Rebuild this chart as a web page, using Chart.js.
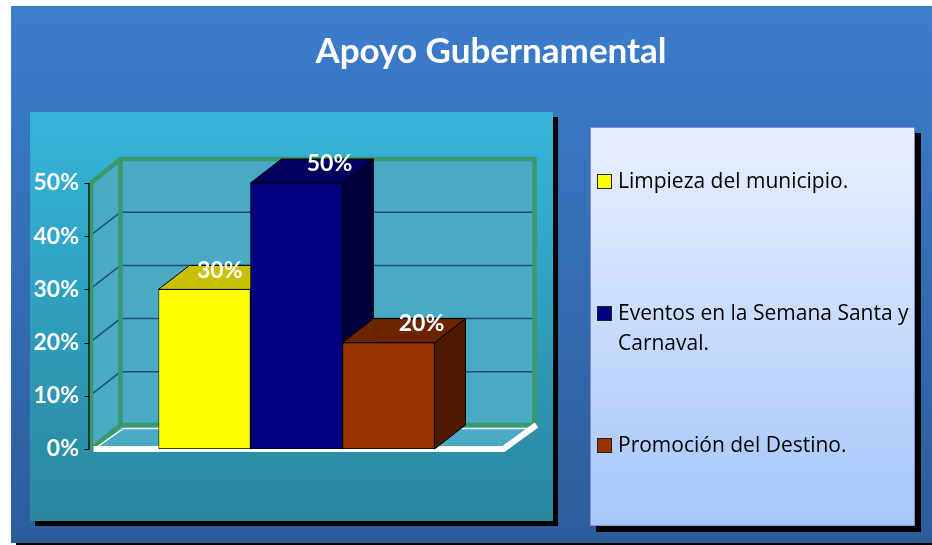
<!DOCTYPE html>
<html>
<head>
<meta charset="utf-8">
<script src="https://cdn.jsdelivr.net/npm/chart.js@4.4.1/dist/chart.umd.min.js"></script>
<style>
  html, body { margin: 0; padding: 0; background: #fff; }
  canvas { display: block; }
</style>
</head>
<body>
<canvas id="apoyo" width="932" height="545"></canvas>
<script>
'use strict';

// Apoyo Gubernamental - columna 3D
var title = 'Apoyo Gubernamental';
var categories = ['Limpieza del municipio.', 'Eventos en la Semana Santa y Carnaval.', 'Promoción del Destino.'];
var values = [30, 50, 20];
var tickValues = [0, 10, 20, 30, 40, 50];

var frontColors = ['#ffff00', '#000080', '#993300'];
var topColors = ['#c8c000', '#00005e', '#6b2600'];
var sideColors = ['#9a9400', '#00003c', '#4d1a00'];

var depthX = 31, depthY = -24;
var FONT = 'Lato, "Open Sans", sans-serif';
var LEGEND_FONT = '"Open Sans", "Noto Sans", sans-serif';

function wrapText(ctx, text, maxW) {
  var words = text.split(' '), lines = [], line = '';
  words.forEach(function (w) {
    var test = line ? line + ' ' + w : w;
    if (ctx.measureText(test).width > maxW && line) {
      lines.push(line);
      line = w;
    } else {
      line = test;
    }
  });
  if (line) lines.push(line);
  return lines;
}

var scene = {
  id: 'scene',
  beforeDraw: function (chart) {
    var ctx = chart.ctx;
    ctx.save();
    ctx.fillStyle = '#fff';
    ctx.fillRect(0, 0, 932, 545);

    // slide background
    ctx.fillStyle = '#000';
    ctx.fillRect(16, 543, 916, 2);
    var g = ctx.createLinearGradient(0, 6, 0, 543);
    g.addColorStop(0, '#3c7dcc');
    g.addColorStop(1, '#2c5d9b');
    ctx.fillStyle = g;
    ctx.fillRect(11, 6, 921, 537);

    // title
    ctx.fillStyle = '#fff';
    ctx.font = 'bold 35px ' + FONT;
    ctx.textAlign = 'center';
    ctx.textBaseline = 'alphabetic';
    ctx.fillText(title, 491, 63);

    // plot panel
    ctx.fillStyle = '#000';
    ctx.fillRect(35, 117, 523, 409);
    g = ctx.createLinearGradient(0, 112, 0, 521);
    g.addColorStop(0, '#35b5da');
    g.addColorStop(1, '#2a879e');
    ctx.fillStyle = g;
    ctx.fillRect(30, 112, 523, 409);

    // legend box
    ctx.fillStyle = '#000';
    ctx.fillRect(596, 133, 325, 399);
    g = ctx.createLinearGradient(0, 127, 0, 526);
    g.addColorStop(0, '#e9f0fe');
    g.addColorStop(1, '#a6c6fb');
    ctx.fillStyle = g;
    ctx.fillRect(590, 127, 325, 399);
    ctx.strokeStyle = '#8a8ad0';
    ctx.lineWidth = 1;
    ctx.strokeRect(590.5, 127.5, 324, 398);

    ctx.font = '21px ' + LEGEND_FONT;
    ctx.textAlign = 'left';
    ctx.textBaseline = 'middle';
    categories.forEach(function (c, i) {
      var y = 182 + i * 132;
      ctx.fillStyle = frontColors[i];
      ctx.fillRect(597, y - 8, 15, 15);
      ctx.strokeStyle = '#222';
      ctx.strokeRect(597.5, y - 7.5, 14, 14);
      ctx.fillStyle = '#000';
      wrapText(ctx, c, 298).forEach(function (ln, k) {
        ctx.fillText(ln, 618, y + k * 30);
      });
    });
    ctx.restore();
  },
  beforeDatasetsDraw: function (chart) {
    var ctx = chart.ctx, xs = chart.scales.x, ys = chart.scales.y;
    var catW = xs.width / categories.length;
    var fl = xs.left - catW * 0.75, fr = xs.right + catW * 0.75;
    var yb = ys.getPixelForValue(ys.min), yt = ys.getPixelForValue(ys.max);
    ctx.save();

    // walls and floor
    ctx.fillStyle = '#4aaac4';
    ctx.fillRect(fl + depthX, yt + depthY, fr - fl, yb - yt);
    ctx.beginPath();
    ctx.moveTo(fl, yt);
    ctx.lineTo(fl + depthX, yt + depthY);
    ctx.lineTo(fl + depthX, yb + depthY);
    ctx.lineTo(fl, yb);
    ctx.closePath();
    ctx.fill();
    ctx.beginPath();
    ctx.moveTo(fl, yb);
    ctx.lineTo(fr, yb);
    ctx.lineTo(fr + depthX, yb + depthY);
    ctx.lineTo(fl + depthX, yb + depthY);
    ctx.closePath();
    ctx.fill();

    // gridlines
    ctx.strokeStyle = '#1d4f7c';
    ctx.lineWidth = 1.5;
    tickValues.slice(1, -1).forEach(function (v) {
      var y = ys.getPixelForValue(v);
      ctx.beginPath();
      ctx.moveTo(fl, y);
      ctx.lineTo(fl + depthX, y + depthY);
      ctx.lineTo(fr + depthX, y + depthY);
      ctx.stroke();
    });

    // green frame
    ctx.strokeStyle = '#38996a';
    ctx.lineWidth = 4.5;
    ctx.lineJoin = 'round';
    ctx.strokeRect(fl + depthX, yt + depthY, fr - fl, yb - yt);
    ctx.beginPath();
    ctx.moveTo(fl + 1.5, yb);
    ctx.lineTo(fl + 1.5, yt);
    ctx.lineTo(fl + depthX, yt + depthY);
    ctx.moveTo(fl + 1.5, yb);
    ctx.lineTo(fl + depthX, yb + depthY);
    ctx.stroke();

    // floor edges
    ctx.strokeStyle = '#fff';
    ctx.lineWidth = 6;
    ctx.beginPath();
    ctx.moveTo(fl + 4, yb);
    ctx.lineTo(fr, yb);
    ctx.lineTo(fr + depthX + 2, yb + depthY);
    ctx.stroke();
    ctx.lineWidth = 1.5;
    ctx.beginPath();
    ctx.moveTo(fl + depthX + 3, yb + depthY + 3.5);
    ctx.lineTo(fr + depthX - 2, yb + depthY + 3.5);
    ctx.moveTo(fl + 6, yb - 1);
    ctx.lineTo(fl + depthX + 3, yb + depthY + 3.5);
    ctx.stroke();

    // front axis line and tick marks
    ctx.strokeStyle = '#163a2a';
    ctx.lineWidth = 2;
    ctx.beginPath();
    ctx.moveTo(fl - 0.5, yt);
    ctx.lineTo(fl - 0.5, yb);
    ctx.stroke();
    ctx.strokeStyle = '#000';
    ctx.lineWidth = 1;
    tickValues.forEach(function (v) {
      var y = Math.round(ys.getPixelForValue(v)) + 0.5;
      ctx.beginPath();
      ctx.moveTo(fl - 5, y);
      ctx.lineTo(fl, y);
      ctx.stroke();
    });

    // side and top faces of the columns
    var meta = chart.getDatasetMeta(0);
    ctx.strokeStyle = '#000';
    ctx.lineWidth = 1;
    meta.data.forEach(function (el, i) {
      var l = el.x - el.width / 2, r = el.x + el.width / 2, t = el.y, b = el.base;
      ctx.fillStyle = sideColors[i];
      ctx.beginPath();
      ctx.moveTo(r, t);
      ctx.lineTo(r + depthX, t + depthY);
      ctx.lineTo(r + depthX, b + depthY);
      ctx.lineTo(r, b);
      ctx.closePath();
      ctx.fill();
      ctx.stroke();
      ctx.fillStyle = topColors[i];
      ctx.beginPath();
      ctx.moveTo(l, t);
      ctx.lineTo(l + depthX, t + depthY);
      ctx.lineTo(r + depthX, t + depthY);
      ctx.lineTo(r, t);
      ctx.closePath();
      ctx.fill();
      ctx.stroke();
    });
    ctx.restore();
  },
  afterDatasetsDraw: function (chart) {
    var ctx = chart.ctx, meta = chart.getDatasetMeta(0);
    ctx.save();
    ctx.fillStyle = '#fff';
    ctx.font = 'bold 23px ' + FONT;
    ctx.textAlign = 'center';
    ctx.textBaseline = 'middle';
    meta.data.forEach(function (el, i) {
      var txt = values[i] + '%';
      var w = ctx.measureText(txt).width;
      var x = el.x + 33;
      var next = meta.data[i + 1];
      if (next && values[i + 1] > values[i]) {
        x = Math.min(x, next.x - next.width / 2 - 8 - w / 2);
      }
      ctx.fillText(txt, x, el.y - 19);
    });
    ctx.restore();
  }
};

var chart = new Chart(document.getElementById('apoyo'), {
  type: 'bar',
  data: {
    labels: categories,
    datasets: [{
      data: values,
      backgroundColor: frontColors,
      borderColor: '#000',
      borderWidth: 1,
      borderSkipped: false,
      barPercentage: 1,
      categoryPercentage: 1
    }]
  },
  options: {
    responsive: false,
    animation: false,
    layout: { padding: { left: 0, top: 183, right: 497.5, bottom: 96 } },
    plugins: {
      legend: { display: false },
      tooltip: { enabled: false }
    },
    scales: {
      x: { display: false },
      y: {
        min: tickValues[0],
        max: tickValues[tickValues.length - 1],
        border: { display: false },
        grid: { display: false, drawTicks: false, tickLength: 0 },
        ticks: {
          stepSize: 10,
          padding: 79.5,
          color: '#fff',
          font: { family: FONT, size: 23, weight: 'bold' },
          callback: function (v) { return v + '%'; }
        },
        afterFit: function (scale) { scale.width = 158.5; }
      }
    }
  },
  plugins: [scene]
});
</script>
</body>
</html>
